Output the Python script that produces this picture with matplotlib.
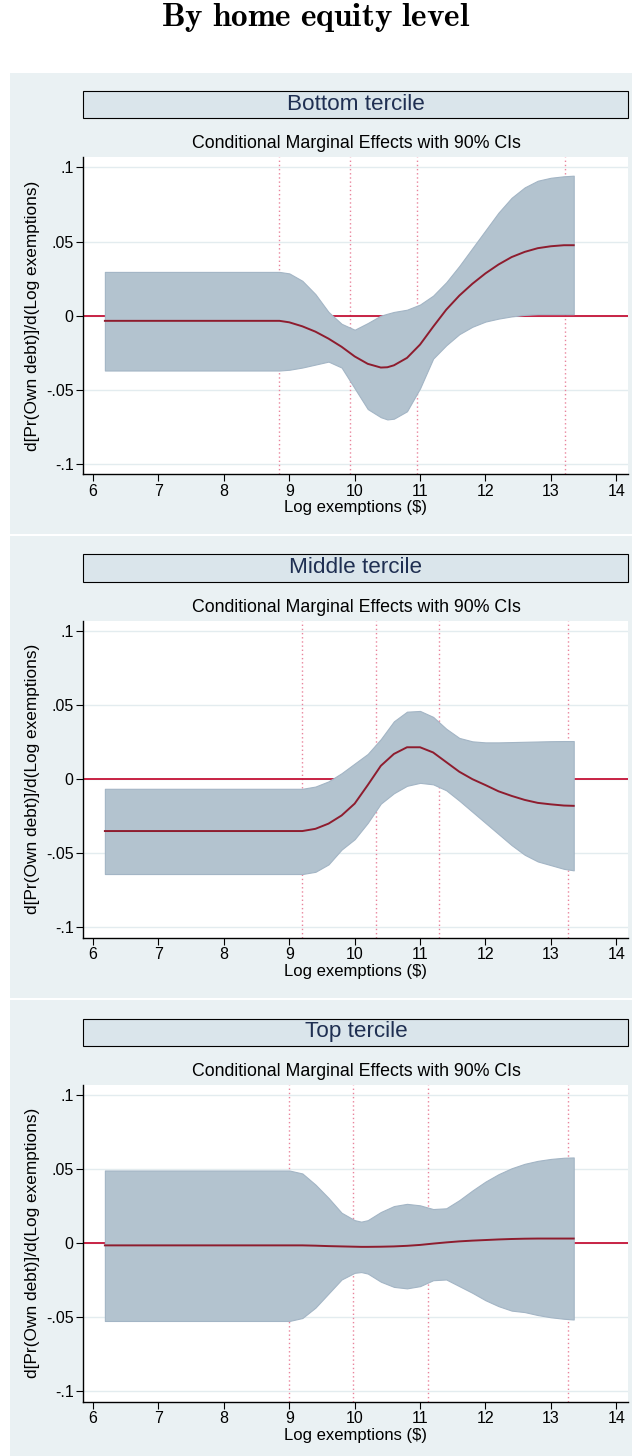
import matplotlib
matplotlib.use('Agg')
import matplotlib.pyplot as plt
from matplotlib.patches import Rectangle

plt.rcParams['font.family'] = ['Liberation Sans', 'DejaVu Sans']
plt.rcParams['mathtext.fontset'] = 'cm'

# --- datos: efecto marginal y bandas del 90% por tercil ---
x_bottom = [6.18, 8.85, 9.0, 9.2, 9.4, 9.6, 9.8, 10.0, 10.2, 10.4, 10.5, 10.6, 10.8,
            11.0, 11.2, 11.4, 11.6, 11.8, 12.0, 12.2, 12.4, 12.6, 12.8, 13.0, 13.2, 13.35]
me_bottom = [-0.0035, -0.0035, -0.0045, -0.0072, -0.0108, -0.0155, -0.021, -0.0275, -0.0325,
             -0.0350, -0.0348, -0.0335, -0.0285, -0.0195, -0.0075, 0.004, 0.0135, 0.0215,
             0.0285, 0.0345, 0.0395, 0.0430, 0.0455, 0.0468, 0.0475, 0.0475]
hi_bottom = [0.0295, 0.0295, 0.0285, 0.0235, 0.0145, 0.0025, -0.0055, -0.0095, -0.005, 0.0,
             0.0013, 0.0025, 0.004, 0.0075, 0.0135, 0.0225, 0.0335, 0.0455, 0.0575, 0.0695,
             0.0795, 0.0865, 0.0910, 0.0930, 0.0940, 0.0944]
lo_bottom = [-0.037, -0.037, -0.0365, -0.035, -0.033, -0.031, -0.035, -0.049, -0.063, -0.0685,
             -0.070, -0.0695, -0.0645, -0.049, -0.029, -0.020, -0.0125, -0.0075, -0.004, -0.002,
             -0.0005, 0.0005, 0.001, 0.001, 0.001, 0.001]
vl_bottom = [8.84, 9.93, 10.95, 13.21]

x_middle = [6.18, 9.2, 9.4, 9.6, 9.8, 10.0, 10.2, 10.4, 10.6, 10.8, 11.0, 11.2, 11.4, 11.6,
            11.8, 12.0, 12.2, 12.4, 12.6, 12.8, 13.0, 13.2, 13.35]
me_middle = [-0.035, -0.035, -0.0335, -0.030, -0.0245, -0.0165, -0.004, 0.009, 0.017, 0.0215,
             0.0215, 0.018, 0.0115, 0.005, 0.0, -0.004, -0.0082, -0.0113, -0.014, -0.016,
             -0.017, -0.0178, -0.018]
hi_middle = [-0.0065, -0.0065, -0.005, -0.0015, 0.004, 0.0105, 0.017, 0.027, 0.039, 0.0455,
             0.046, 0.042, 0.034, 0.0278, 0.0255, 0.0248, 0.0248, 0.025, 0.0252, 0.0254,
             0.0256, 0.0257, 0.0257]
lo_middle = [-0.064, -0.064, -0.0625, -0.0575, -0.0475, -0.0405, -0.0295, -0.0165, -0.0095,
             -0.0045, -0.0025, -0.0035, -0.0075, -0.0145, -0.022, -0.0295, -0.037, -0.0445,
             -0.051, -0.0555, -0.058, -0.0605, -0.0615]
vl_middle = [9.19, 10.32, 11.29, 13.26]

x_top = [6.18, 9.0, 9.2, 9.4, 9.6, 9.8, 10.0, 10.1, 10.2, 10.4, 10.6, 10.8, 11.0, 11.2, 11.4,
         11.6, 11.8, 12.0, 12.2, 12.4, 12.6, 12.8, 13.0, 13.2, 13.35]
me_top = [-0.0015, -0.0015, -0.0015, -0.0017, -0.002, -0.0022, -0.0024, -0.0025, -0.0025,
          -0.0024, -0.0022, -0.0018, -0.0012, -0.0003, 0.0005, 0.0012, 0.0017, 0.0021, 0.0025,
          0.0028, 0.003, 0.0031, 0.0031, 0.0031, 0.0031]
hi_top = [0.049, 0.049, 0.047, 0.0395, 0.0305, 0.0205, 0.0155, 0.0145, 0.0155, 0.021, 0.025,
          0.0265, 0.0255, 0.023, 0.0235, 0.029, 0.0355, 0.0415, 0.0465, 0.0505, 0.0535, 0.0555,
          0.0568, 0.0576, 0.0578]
lo_top = [-0.0525, -0.0525, -0.0505, -0.0435, -0.034, -0.0245, -0.020, -0.0195, -0.0205,
          -0.026, -0.0295, -0.0305, -0.029, -0.025, -0.0245, -0.029, -0.0335, -0.0385, -0.0425,
          -0.0455, -0.0465, -0.0485, -0.0500, -0.0510, -0.0515]
vl_top = [9.0, 9.975, 11.12, 13.26]

panel_names = ['Bottom tercile', 'Middle tercile', 'Top tercile']
y_ticks = [-0.1, -0.05, 0, 0.05, 0.1]
y_tick_labels = ['-.1', '-.05', '0', '.05', '.1']
x_ticks = [6, 7, 8, 9, 10, 11, 12, 13, 14]

W, H = 632, 1456
BG = '#eaf1f3'
HEADER = '#dae5eb'
FILL = '#b3c3cf'
EDGE = '#a3b5c5'
ZERO = '#c41236'
MEAN = '#8e1c2e'
VLINE = '#e9849c'
GRID = '#e3ecef'


def fx(px):
    return px / W


def fy(py):
    return 1 - py / H


def draw_panel(fig, off, name, x, me, lo, hi, vlines):
    # fondo del panel
    fig.add_artist(Rectangle((fx(10), fy(534 + off)), 1 - fx(10), (461.5) / H,
                             transform=fig.transFigure, facecolor=BG, edgecolor='none', zorder=0))
    # caja de cabecera
    fig.add_artist(Rectangle((fx(83.3), fy(118 + off)), fx(628) - fx(83.3), 27 / H,
                             transform=fig.transFigure, facecolor=HEADER, edgecolor='black',
                             linewidth=0.8, zorder=1))
    fig.text(fx(356), fy(104 + off), name, ha='center', va='center',
             fontsize=16.2, color='#1f2f52')
    fig.text(fx(356), fy(144 + off), 'Conditional Marginal Effects with 90% CIs',
             ha='center', va='center', fontsize=12.8)

    ax = fig.add_axes([fx(83.3), fy(474 + off), fx(628) - fx(83.3), 317 / H])
    ax.set_facecolor('white')
    ax.set_zorder(2)
    for yt in y_ticks:
        ax.axhline(yt, color=GRID, lw=1, zorder=0)
    for v in vlines:
        ax.axvline(v, color=VLINE, lw=1, ls=(0, (1, 2)), zorder=1)
    ax.axhline(0, color=ZERO, lw=1.3, zorder=1.5)
    ax.fill_between(x, lo, hi, facecolor=FILL, edgecolor=EDGE, lw=0.8, zorder=2)
    ax.plot(x, me, color=MEAN, lw=1.4, zorder=3)

    ax.set_xlim(5.85, 14.18)
    ax.set_ylim(-0.1068, 0.107)
    ax.set_xticks(x_ticks)
    ax.set_yticks(y_ticks)
    ax.set_yticklabels(y_tick_labels)
    ax.tick_params(axis='both', labelsize=11.5, length=5, width=0.8, pad=2)
    for s in ['top', 'right']:
        ax.spines[s].set_visible(False)
    for s in ['left', 'bottom']:
        ax.spines[s].set_linewidth(1)
    ax.set_xlabel('Log exemptions ($)', fontsize=12, labelpad=1)
    ax.set_ylabel('d[Pr(Own debt)]/d(Log exemptions)', fontsize=12.4, labelpad=4)
    return ax


fig = plt.figure(figsize=(6.32, 14.56), dpi=100)
fig.text(0.5, fy(18), r'$\mathbf{By\ home\ equity\ level}$', ha='center', va='center',
         fontsize=24)

data = [
    (x_bottom, me_bottom, lo_bottom, hi_bottom, vl_bottom),
    (x_middle, me_middle, lo_middle, hi_middle, vl_middle),
    (x_top, me_top, lo_top, hi_top, vl_top),
]
offsets = [0, 463.5, 927.5]
for off, name, (x, me, lo, hi, vl) in zip(offsets, panel_names, data):
    draw_panel(fig, off, name, x, me, lo, hi, vl)

fig.savefig('out.png', dpi=100)
